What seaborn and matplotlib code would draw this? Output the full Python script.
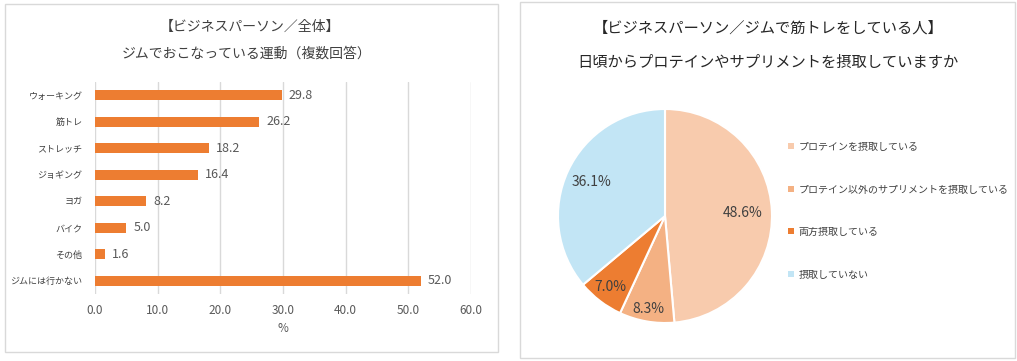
import numpy as np
import pandas as pd
import matplotlib
matplotlib.use("Agg")
import matplotlib.pyplot as plt
from matplotlib.patches import Rectangle
import seaborn as sns

#Data: left chart (multiple answers, %)
exercise = ["ウォーキング", "筋トレ", "ストレッチ", "ジョギング", "ヨガ", "バイク", "その他", "ジムには行かない"]
exercise_pct = [29.8, 26.2, 18.2, 16.4, 8.2, 5.0, 1.6, 52.0]
x_ticks = [0, 10, 20, 30, 40, 50, 60]

#Data: right chart (%)
intake = ["プロテインを摂取している", "プロテイン以外のサプリメントを摂取している", "両方摂取している", "摂取していない"]
intake_pct = [48.6, 8.3, 7.0, 36.1]
intake_colors = ["#F8CBAD", "#F4B183", "#ED7D31", "#C2E5F5"]
label_radius = [0.73, 0.88, 0.84, 0.76]

sns.set_theme(style="white")
plt.rcParams["font.family"] = ["Noto Sans CJK JP", "DejaVu Sans"]
txt = "#595959"

fig = plt.figure(figsize=(10.17, 3.61), dpi=100)

#Panel frames
W, H = 1017, 361
for (x0, y0, x1, y1) in [(5, 4, 498, 352), (520, 2, 1015, 358)]:
	fig.patches.append(Rectangle((x0/W, 1-y1/H), (x1-x0)/W, (y1-y0)/H, transform=fig.transFigure,
								 fill=False, edgecolor="#D9D9D9", linewidth=1.0))

#Left: horizontal bars--------------------
ax = fig.add_axes([95/W, 1-294/H, (471-95)/W, (294-82)/H])
DFex = pd.DataFrame({"item": exercise, "pct": exercise_pct})
sns.barplot(data=DFex, x="pct", y="item", orient="h", color="#ED7D31", saturation=1, width=0.36,
			linewidth=0, ax=ax)
ax.bar_label(ax.containers[0], fmt="%.1f", padding=5, fontsize=9, color=txt)
ax.set_xlim(0, 60)
ax.set_ylim(7.5, -0.5)
ax.set_xticks(x_ticks)
ax.set_xticklabels(["{:.1f}".format(v) for v in x_ticks])
ax.grid(axis="x", color="#D9D9D9", linewidth=1.0)
ax.set_axisbelow(True)
for s in ax.spines.values():
	s.set_visible(False)
ax.tick_params(axis="x", labelsize=8.5, labelcolor=txt, length=0, pad=7)
ax.tick_params(axis="y", labelsize=6.5, labelcolor="#404040", length=0, pad=9)
ax.set_ylabel("")
ax.set_xlabel("%", fontsize=8.5, color=txt, labelpad=4)
fig.text(250/W, 1-27/H, "【ビジネスパーソン／全体】", ha="center", va="center", fontsize=10, color="#404040")
fig.text(247/W, 1-54/H, "ジムでおこなっている運動（複数回答）", ha="center", va="center", fontsize=10, color="#404040")

#Right: pie-------------------------------
axp = fig.add_axes([(665-107)/W, 1-(216+107)/H, 214/W, 214/H])
wedges, _ = axp.pie(intake_pct, colors=intake_colors, startangle=90, counterclock=False,
					wedgeprops={"edgecolor": "white", "linewidth": 1.5})
for w, p, r in zip(wedges, intake_pct, label_radius):
	ang = np.deg2rad((w.theta1 + w.theta2) / 2)
	axp.text(r*np.cos(ang), r*np.sin(ang), "{:.1f}%".format(p), ha="center", va="center",
			 fontsize=10, color="#404040")
axp.set_xlim(-1.0, 1.0)
axp.set_ylim(-1.0, 1.0)
axp.set_aspect("equal")
axp.axis("off")
leg = fig.legend(wedges, intake, loc="upper left", bbox_to_anchor=(784/W, 1-138/H), frameon=False,
				 fontsize=7.2, handlelength=0.55, handleheight=0.55, handletextpad=0.5,
				 labelspacing=3.25, labelcolor="#404040", borderaxespad=0)
for h in leg.legend_handles:
	h.set_edgecolor("none")
fig.text(768/W, 1-28/H, "【ビジネスパーソン／ジムで筋トレをしている人】", ha="center", va="center", fontsize=11, color="#262626")
fig.text(768/W, 1-62/H, "日頃からプロテインやサプリメントを摂取していますか", ha="center", va="center", fontsize=11, color="#262626")

fig.savefig("out.png", dpi=100)
plt.close(fig)
